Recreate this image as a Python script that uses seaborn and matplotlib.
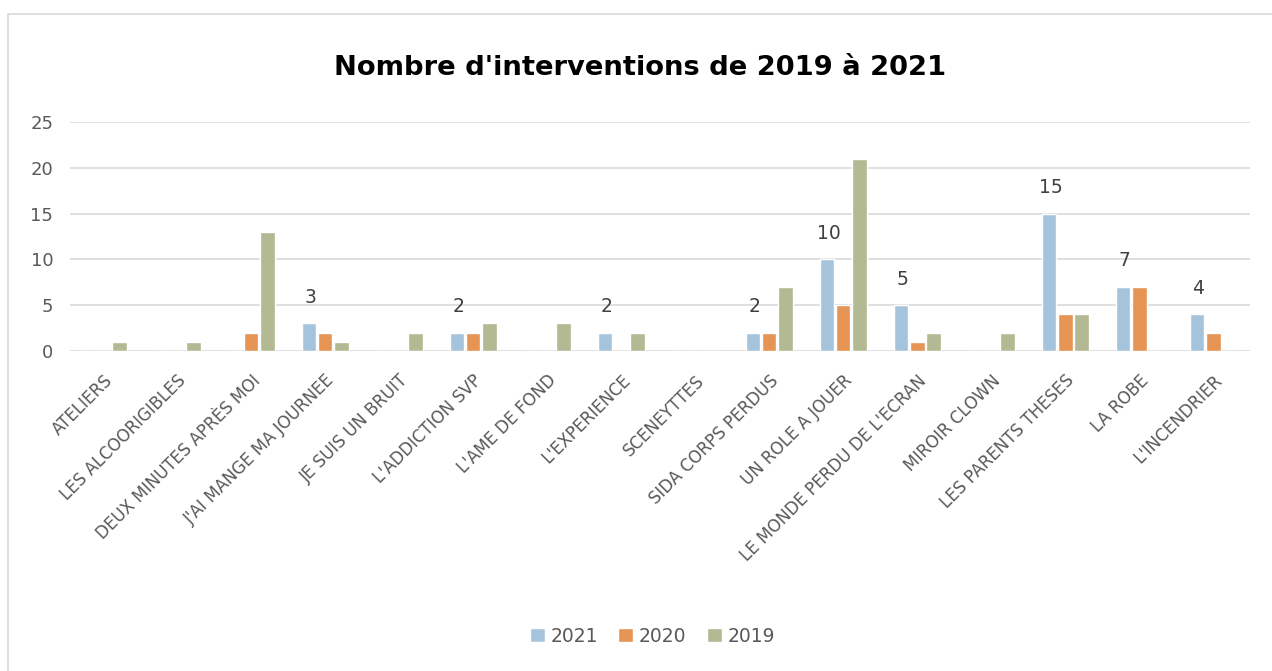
import matplotlib
matplotlib.use('Agg')
import matplotlib.pyplot as plt
import matplotlib.transforms as mtrans
import pandas as pd
import seaborn as sns
from matplotlib.patches import Rectangle

spectacles = ['ATELIERS', 'LES ALCOORIGIBLES', 'DEUX MINUTES APRÈS MOI',
              "J'AI MANGE MA JOURNEE", 'JE SUIS UN BRUIT', "L'ADDICTION SVP",
              "L'AME DE FOND", "L'EXPERIENCE", 'SCENEYTTES', 'SIDA CORPS PERDUS',
              'UN ROLE A JOUER', "LE MONDE PERDU DE L'ECRAN", 'MIROIR CLOWN',
              'LES PARENTS THESES', 'LA ROBE', "L'INCENDRIER"]
years = ['2021', '2020', '2019']
v2021 = [0, 0, 0, 3, 0, 2, 0, 2, 0, 2, 10, 5, 0, 15, 7, 4]
v2020 = [0, 0, 2, 2, 0, 2, 0, 0, 0, 2, 5, 1, 0, 4, 7, 2]
v2019 = [1, 1, 13, 1, 2, 3, 3, 2, 0, 7, 21, 2, 2, 4, 0, 0]
colors = ['#A5C4DC', '#E69454', '#B3B992']

df = pd.DataFrame({'Spectacle': spectacles, '2021': v2021, '2020': v2020, '2019': v2019})
df_long = df.melt(id_vars='Spectacle', var_name='Année', value_name='Interventions')

sns.set_style('white')
plt.rcParams['font.family'] = ['DejaVu Sans']
txt = '#595959'

fig = plt.figure(figsize=(12.72, 6.71), dpi=100)
ax = fig.add_axes([0.055, 0.477, 0.928, 0.341])

sns.barplot(data=df_long, x='Spectacle', y='Interventions', hue='Année',
            order=spectacles, hue_order=years, palette=colors,
            width=0.66, gap=0.12, saturation=1, ax=ax)

# data labels on 2021 bars only (non-zero)
for p, v in zip(ax.containers[0], v2021):
    if v > 0:
        ax.annotate(str(v), (p.get_x() + p.get_width() / 2, v),
                    xytext=(1, 12), textcoords='offset points',
                    ha='center', va='bottom', fontsize=13.5, color='#404040')

ax.set_ylim(0, 25)
ax.set_yticks(range(0, 26, 5))
ax.set_xlim(-0.45, len(spectacles) - 0.5)
ax.yaxis.grid(True, color='#D9D9D9', linewidth=1.2)
ax.set_axisbelow(True)
for s in ax.spines.values():
    s.set_visible(False)
ax.set_xlabel('')
ax.set_ylabel('')
ax.tick_params(axis='both', length=0, colors=txt, labelsize=13)
ax.tick_params(axis='y', pad=12)
ax.tick_params(axis='x', pad=4)
shift = mtrans.ScaledTranslation(0, -15 / 100, fig.dpi_scale_trans)
for lab in ax.get_xticklabels():
    lab.set_rotation(45)
    lab.set_ha('right')
    lab.set_rotation_mode('anchor')
    lab.set_fontsize(12)
    lab.set_color(txt)
    lab.set_transform(lab.get_transform() + shift)

ax.legend(loc='center', bbox_to_anchor=(0.513, 0.052), bbox_transform=fig.transFigure,
          ncol=3, frameon=False, fontsize=13.5, handlelength=0.8, handleheight=0.8,
          handletextpad=0.3, columnspacing=1.1, labelcolor=txt)

fig.text(0.503, 0.899, "Nombre d'interventions de 2019 à 2021", ha='center', va='center',
         fontsize=19.7, fontweight='bold', color='black')

fig.patches.append(Rectangle((0.006, -0.01), 1.0, 0.989, transform=fig.transFigure,
                             fill=False, edgecolor='#D9D9D9', linewidth=1.2))

fig.savefig('out.png', dpi=100)
